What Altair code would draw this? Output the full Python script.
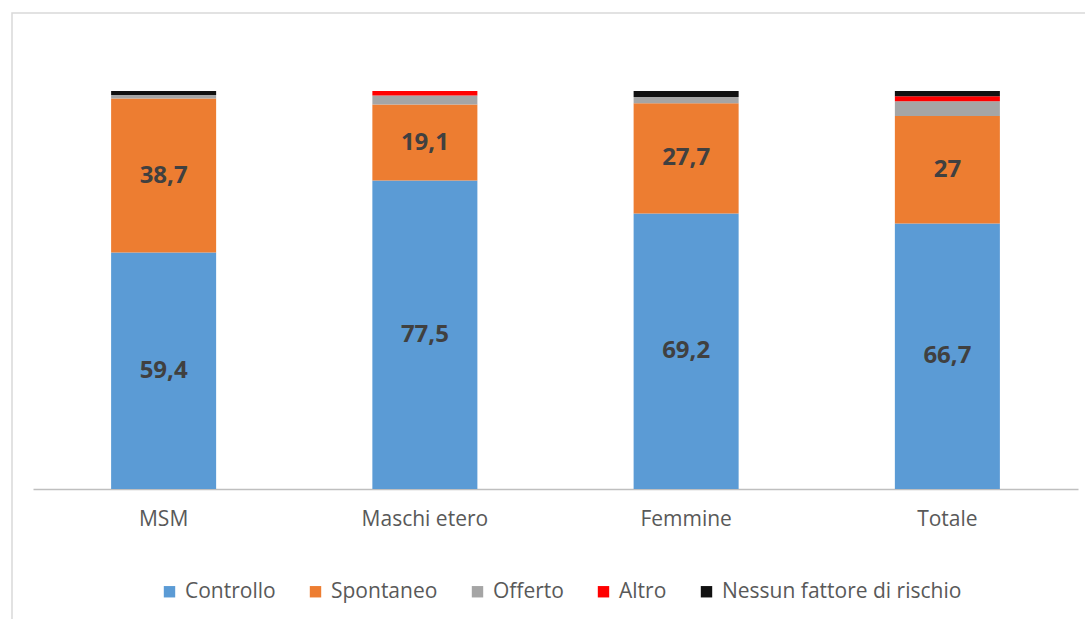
import altair as alt
import pandas as pd

groups = ["MSM", "Maschi etero", "Femmine", "Totale"]
series = ["Controllo", "Spontaneo", "Offerto", "Altro", "Nessun fattore di rischio"]
colors = ["#5B9BD5", "#ED7D31", "#A5A5A5", "#FF0000", "#111111"]
controllo = [59.4, 77.5, 69.2, 66.7]
spontaneo = [38.7, 19.1, 27.7, 27.0]
offerto = [0.9, 2.3, 1.6, 3.7]
altro = [0.0, 1.1, 0.0, 1.3]
nessun = [1.0, 0.0, 1.5, 1.3]
labels_controllo = ["59,4", "77,5", "69,2", "66,7"]
labels_spontaneo = ["38,7", "19,1", "27,7", "27"]

values = [controllo, spontaneo, offerto, altro, nessun]
rows = []
for si, s in enumerate(series):
    for gi, g in enumerate(groups):
        lab = ""
        if si == 0:
            lab = labels_controllo[gi]
        elif si == 1:
            lab = labels_spontaneo[gi]
        rows.append({"gruppo": g, "serie": s, "valore": values[si][gi], "ord": si, "lab": lab})
df = pd.DataFrame(rows)

FONT = "Open Sans"

base = alt.Chart(df).encode(
    x=alt.X("gruppo:N", sort=groups, title=None,
            scale=alt.Scale(paddingInner=0.598, paddingOuter=0.299),
            axis=alt.Axis(labelAngle=0, labelFontSize=21, labelColor="#595959", labelFont=FONT,
                          ticks=False, domainColor="#BFBFBF", domainWidth=1.5, labelPadding=19)),
)

bars = base.mark_bar().encode(
    y=alt.Y("valore:Q", stack="zero", scale=alt.Scale(domain=[0, 100], nice=False), axis=None),
    color=alt.Color("serie:N", sort=series,
                    scale=alt.Scale(domain=series, range=colors),
                    legend=alt.Legend(title=None, orient="none", legendX=126, legendY=490,
                                      direction="horizontal", symbolType="square", symbolSize=130,
                                      symbolStrokeWidth=0, labelFontSize=21, labelColor="#595959",
                                      labelFont=FONT, columnPadding=29, labelOffset=5, labelLimit=0)),
    order=alt.Order("ord:Q", sort="ascending"),
)

texts = base.transform_filter("datum.ord < 2").transform_stack(
    stack="valore", groupby=["gruppo"], as_=["v0", "v1"], sort=[alt.SortField("ord", order="ascending")]
).transform_calculate(mid="(datum.v0 + datum.v1) / 2").mark_text(
    fontSize=24, fontWeight="bold", color="#404040", font=FONT, baseline="middle"
).encode(
    y=alt.Y("mid:Q", scale=alt.Scale(domain=[0, 100], nice=False)),
    text="lab:N",
)

frame = alt.Chart(pd.DataFrame({"a": [0]})).mark_rect(
    fill=None, stroke="#D9D9D9", strokeWidth=1.5, clip=False
).encode(x=alt.value(-21), x2=alt.value(1070), y=alt.value(-78), y2=alt.value(560))

chart = alt.layer(frame, bars, texts).properties(
    width=1045, height=398,
    background="white",
    autosize=alt.AutoSizeParams(type="none"),
    padding={"left": 33, "top": 91, "right": 7, "bottom": 130},
).configure_view(strokeWidth=0, stroke=None)

chart.save("out.html", embed_options={"renderer": "svg", "actions": False})
